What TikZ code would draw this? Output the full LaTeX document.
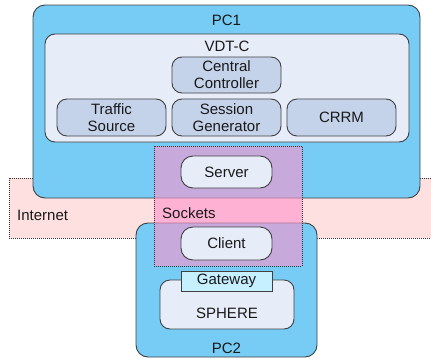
\documentclass[tikz,border=0pt]{standalone}
\usepackage{fontspec}
\setmainfont{Liberation Sans}
\begin{document}
\begin{tikzpicture}[x=1pt,y=-1pt,
  every node/.style={font=\fontsize{15}{17}\selectfont, text=black!90, inner sep=0pt, align=center},
  edge/.style={draw=black!75, line width=0.9pt},
  pcbox/.style={edge, fill=pcblue, rounded corners=12pt},
  panel/.style={edge, fill=panelfill, rounded corners=10pt},
  module/.style={edge, fill=modfill, rounded corners=10pt},
  pill/.style={edge, fill=panelfill, rounded corners=12pt},
  dotbox/.style={draw=black!80, line width=0.8pt, dash pattern=on 1pt off 1pt},
]
\definecolor{pcblue}{RGB}{119,204,245}
\definecolor{panelfill}{RGB}{230,236,248}
\definecolor{modfill}{RGB}{197,211,234}
\definecolor{netpink}{RGB}{255,224,224}
\definecolor{sockpink}{RGB}{255,147,203}
\definecolor{gatecyan}{RGB}{198,240,255}

\useasboundingbox (0,0) rectangle (431,359);

% Internet band behind both machines
\path[dotbox, fill=netpink] (9,178) rectangle (445,238);
\node[anchor=west] (internet) at (17,215) {Internet};

% PC1 with the VDT-C panel
\node[pcbox, minimum width=387pt, minimum height=193pt] (pc1) at (226.5,101.5) {};
\node (pc1lbl) at (226.5,20) {PC1};
\node[panel, minimum width=364pt, minimum height=108pt] (vdtc) at (227,88) {};
\node (vdtclbl) at (227,46) {VDT-C};
\node[module, minimum width=109pt, minimum height=36pt] (cc) at (226.5,75) {Central\\Controller};
\node[module, minimum width=109pt, minimum height=37pt] (ts) at (111.5,117.5) {Traffic\\Source};
\node[module, minimum width=109pt, minimum height=37pt] (sg) at (226.5,117.5) {Session\\Generator};
\node[module, minimum width=109pt, minimum height=37pt] (crrm) at (341.5,117.5) {CRRM};

% PC2 with SPHERE and its gateway
\node[pcbox, minimum width=181pt, minimum height=134pt] (pc2) at (226.5,290) {};
\node (pc2lbl) at (226.5,348) {PC2};
\node[panel, minimum width=134pt, minimum height=49pt] (sphere) at (227,304.5) {};
\node (spherelbl) at (227,313) {SPHERE};
\node[edge, fill=gatecyan, minimum width=91pt, minimum height=20pt] (gw) at (226.5,281) {Gateway};

% Socket link spanning both machines
\path[dotbox, fill=sockpink, fill opacity=0.6] (154,146) rectangle (302,266);
\node[anchor=west] (sockets) at (162,213) {Sockets};
\node[pill, minimum width=91pt, minimum height=32pt] (server) at (226.5,172) {Server};
\node[pill, minimum width=91pt, minimum height=33pt] (client) at (226.5,243.5) {Client};
\end{tikzpicture}
\end{document}
